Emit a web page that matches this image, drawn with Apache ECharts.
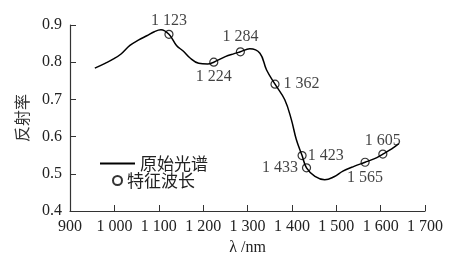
<!DOCTYPE html>
<html>
<head>
<meta charset="utf-8">
<script src="https://cdn.jsdelivr.net/npm/echarts@6/dist/echarts.min.js"></script>
<style>html,body{margin:0;padding:0;background:#fff}#c{width:465px;height:262px}</style>
</head>
<body>
<div id="c"></div>
<script>
// Original spectrum (wavelength nm, reflectance)
var spectrumX = [956, 979, 997, 1015, 1035, 1055, 1073, 1090, 1105, 1123, 1140, 1155, 1170, 1190, 1210, 1224, 1250, 1270, 1284, 1305, 1328, 1343, 1362, 1384, 1399, 1410, 1423, 1433, 1452, 1474, 1495, 1515, 1540, 1565, 1585, 1605, 1625, 1641];
var spectrumY = [0.784, 0.797, 0.808, 0.822, 0.845, 0.860, 0.871, 0.882, 0.887, 0.875, 0.845, 0.830, 0.812, 0.797, 0.795, 0.800, 0.815, 0.823, 0.828, 0.836, 0.824, 0.779, 0.741, 0.699, 0.645, 0.592, 0.549, 0.516, 0.493, 0.484, 0.492, 0.507, 0.520, 0.531, 0.540, 0.553, 0.567, 0.581];
// Feature wavelengths
var featureX = [1123, 1224, 1284, 1362, 1423, 1433, 1565, 1605];
var featureY = [0.875, 0.800, 0.828, 0.741, 0.549, 0.516, 0.531, 0.553];
// Tick settings
var xTicks = {min: 900, max: 1700, interval: 100};
var yTicks = {min: 0.4, max: 0.9, interval: 0.1};
var seriesNames = ['原始光谱', '特征波长'];

// label placement (style)
var labelPlace = [
  ['top', 1], ['bottom', 2], ['top', 2], ['right', 4],
  ['right', 1], ['left', 4], ['bottom', 3], ['top', 1]
];

function fmtThousands(v) {
  return String(v).replace(/(\d)(?=(\d{3})+$)/, '$1 ');
}

var serif = "'Liberation Serif', 'Times New Roman', Times, serif";
var cjk = "'Noto Sans CJK SC', sans-serif";
var axisColor = '#333';

var lineData = spectrumX.map(function (x, i) { return [x, spectrumY[i]]; });
var featData = featureX.map(function (x, i) {
  return {
    value: [x, featureY[i]],
    label: {position: labelPlace[i][0], distance: labelPlace[i][1]}
  };
});

var chart = echarts.init(document.getElementById('c'), null, {renderer: 'canvas'});
chart.setOption({
  animation: false,
  backgroundColor: '#fff',
  grid: {left: 70, right: 40, top: 25, bottom: 51, containLabel: false, outerBoundsMode: 'none'},
  legend: [
    {
      data: [{name: seriesNames[0], icon: 'rect', itemStyle: {color: '#000'}}],
      left: 100, top: 155, padding: 0, orient: 'vertical',
      itemWidth: 35, itemHeight: 2,
      textStyle: {fontFamily: cjk, fontSize: 17, color: '#222'}
    },
    {
      data: [{name: seriesNames[1], icon: 'circle'}], left: 112, top: 172, padding: 0, orient: 'vertical',
      itemWidth: 9, itemHeight: 9,
      textStyle: {fontFamily: cjk, fontSize: 17, color: '#222'}
    }
  ],
  xAxis: {
    type: 'value', min: xTicks.min, max: xTicks.max, interval: xTicks.interval,
    name: 'λ /nm', nameLocation: 'middle', nameGap: 28,
    nameTextStyle: {fontFamily: serif, fontSize: 16, color: '#222'},
    axisLine: {show: true, lineStyle: {color: axisColor, width: 1.2}},
    axisTick: {show: true, inside: true, length: 6, lineStyle: {color: axisColor}},
    axisLabel: {fontFamily: serif, fontSize: 16, color: '#222', margin: 8, formatter: function (v) { return fmtThousands(v); }},
    splitLine: {show: false}
  },
  yAxis: {
    type: 'value', min: yTicks.min, max: yTicks.max, interval: yTicks.interval,
    name: '反射率', nameLocation: 'middle', nameGap: 40, nameRotate: 90,
    nameTextStyle: {fontFamily: cjk, fontSize: 16, color: '#333'},
    axisLine: {show: true, lineStyle: {color: axisColor, width: 1.2}},
    axisTick: {show: true, inside: true, length: 6, lineStyle: {color: axisColor}},
    axisLabel: {fontFamily: serif, fontSize: 16, color: '#222', margin: 8, formatter: function (v) { return v.toFixed(1); }},
    splitLine: {show: false}
  },
  series: [
    {
      name: seriesNames[0], type: 'line', data: lineData, smooth: 0.4,
      symbol: 'none', lineStyle: {color: '#000', width: 1.5}, itemStyle: {color: '#000'}, z: 2
    },
    {
      name: seriesNames[1], type: 'scatter', data: featData, symbol: 'circle', symbolSize: 8,
      itemStyle: {color: 'rgba(0,0,0,0)', borderColor: '#000', borderWidth: 1.2}, z: 3,
      label: {
        show: true, fontFamily: serif, fontSize: 16, color: '#111',
        formatter: function (p) { return fmtThousands(p.value[0]); }
      }
    }
  ]
});
</script>
</body>
</html>
